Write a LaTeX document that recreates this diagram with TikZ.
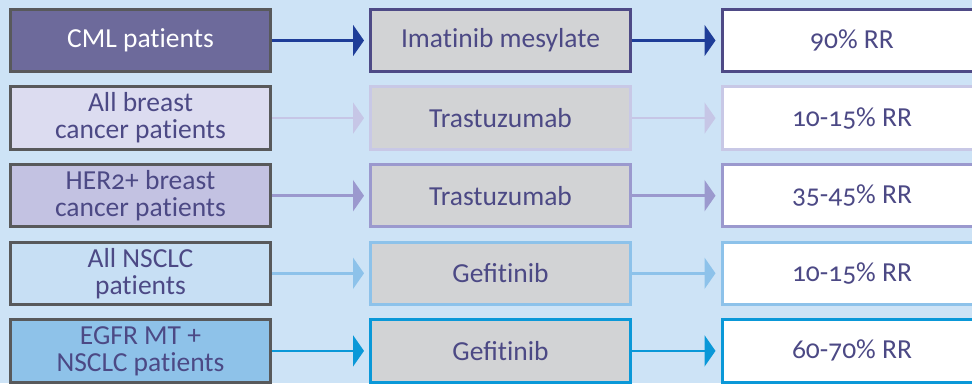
\documentclass[tikz,border=0pt]{standalone}
\usepackage{fontspec}
\setmainfont{Carlito}[Numbers=OldStyle]
\usetikzlibrary{arrows.meta}

% keep "t" and "i" as separate glyphs
\newcommand{\tsep}{\kern0pt}

\definecolor{bg}{HTML}{CDE3F6}
\definecolor{txt}{HTML}{4C4985}
\definecolor{frame}{HTML}{58595B}
\definecolor{drugfill}{HTML}{D2D3D5}
% per-row colours: group fill, arrow, drug/result border
\definecolor{fillA}{HTML}{6D6A9B}\definecolor{arrA}{HTML}{1E3D98}\definecolor{edgeA}{HTML}{4E4A86}
\definecolor{fillB}{HTML}{DCDCF0}\definecolor{arrB}{HTML}{C6C6E6}\definecolor{edgeB}{HTML}{C8C8E6}
\definecolor{fillC}{HTML}{C3C2E2}\definecolor{arrC}{HTML}{9B99CE}\definecolor{edgeC}{HTML}{9B99CE}
\definecolor{fillD}{HTML}{C7DFF4}\definecolor{arrD}{HTML}{8DC2EA}\definecolor{edgeD}{HTML}{8DC2EA}
\definecolor{fillE}{HTML}{8EC2E9}\definecolor{arrE}{HTML}{0A98D8}\definecolor{edgeE}{HTML}{0A98D8}

\tikzset{
  cell/.style={line width=3pt, minimum width=260pt, minimum height=62.5pt,
    inner sep=0pt, align=center, text=txt,
    font=\fontsize{27.5}{27}\selectfont},
  group/.style={cell, draw=frame, fill=#1},
  drug/.style={cell, draw=#1, fill=drugfill},
  result/.style={cell, draw=#1, fill=white},
  flow/.style={draw=#1, line width=2.5pt, shorten >=5pt,
    -{Triangle[length=11pt, width=31pt]}, fill=#1},
}

\begin{document}
\begin{tikzpicture}[x=1pt, y=-1pt]
  \useasboundingbox (0,0) rectangle (972,383);
  \clip (0,0) rectangle (972,383);
  \fill[bg] (0,0) rectangle (972,383);

  % row 1
  \node[group=fillA, text=white] (g1) at (140.5,40.5) {CML pat\tsep ients};
  \node[drug=edgeA] (d1) at (500.5,40.5) {Imat\tsep inib mesylate};
  \node[result=edgeA] (r1) at (852,40.5) {90\% RR};
  % row 2
  \node[group=fillB] (g2) at (140.5,118.1) {All breast\\cancer pat\tsep ients};
  \node[drug=edgeB] (d2) at (500.5,118.1) {Trastuzumab};
  \node[result=edgeB] (r2) at (852,118.1) {10-15\% RR};
  % row 3
  \node[group=fillC] (g3) at (140.5,195.7) {HER2+ breast\\cancer pat\tsep ients};
  \node[drug=edgeC] (d3) at (500.5,195.7) {Trastuzumab};
  \node[result=edgeC] (r3) at (852,195.7) {35-45\% RR};
  % row 4
  \node[group=fillD] (g4) at (140.5,273.3) {All NSCLC\\pat\tsep ients};
  \node[drug=edgeD] (d4) at (500.5,273.3) {Gefit\tsep inib};
  \node[result=edgeD] (r4) at (852,273.3) {10-15\% RR};
  % row 5
  \node[group=fillE] (g5) at (140.5,350.9) {EGFR MT +\\NSCLC pat\tsep ients};
  \node[drug=edgeE] (d5) at (500.5,350.9) {Gefit\tsep inib};
  \node[result=edgeE] (r5) at (852,350.9) {60-70\% RR};

  % connectors
  \foreach \i/\c in {1/arrA,2/arrB,3/arrC,4/arrD,5/arrE}{
    \draw[flow=\c] (g\i.east) -- (d\i.west);
    \draw[flow=\c] (d\i.east) -- (r\i.west);
  }
\end{tikzpicture}
\end{document}
